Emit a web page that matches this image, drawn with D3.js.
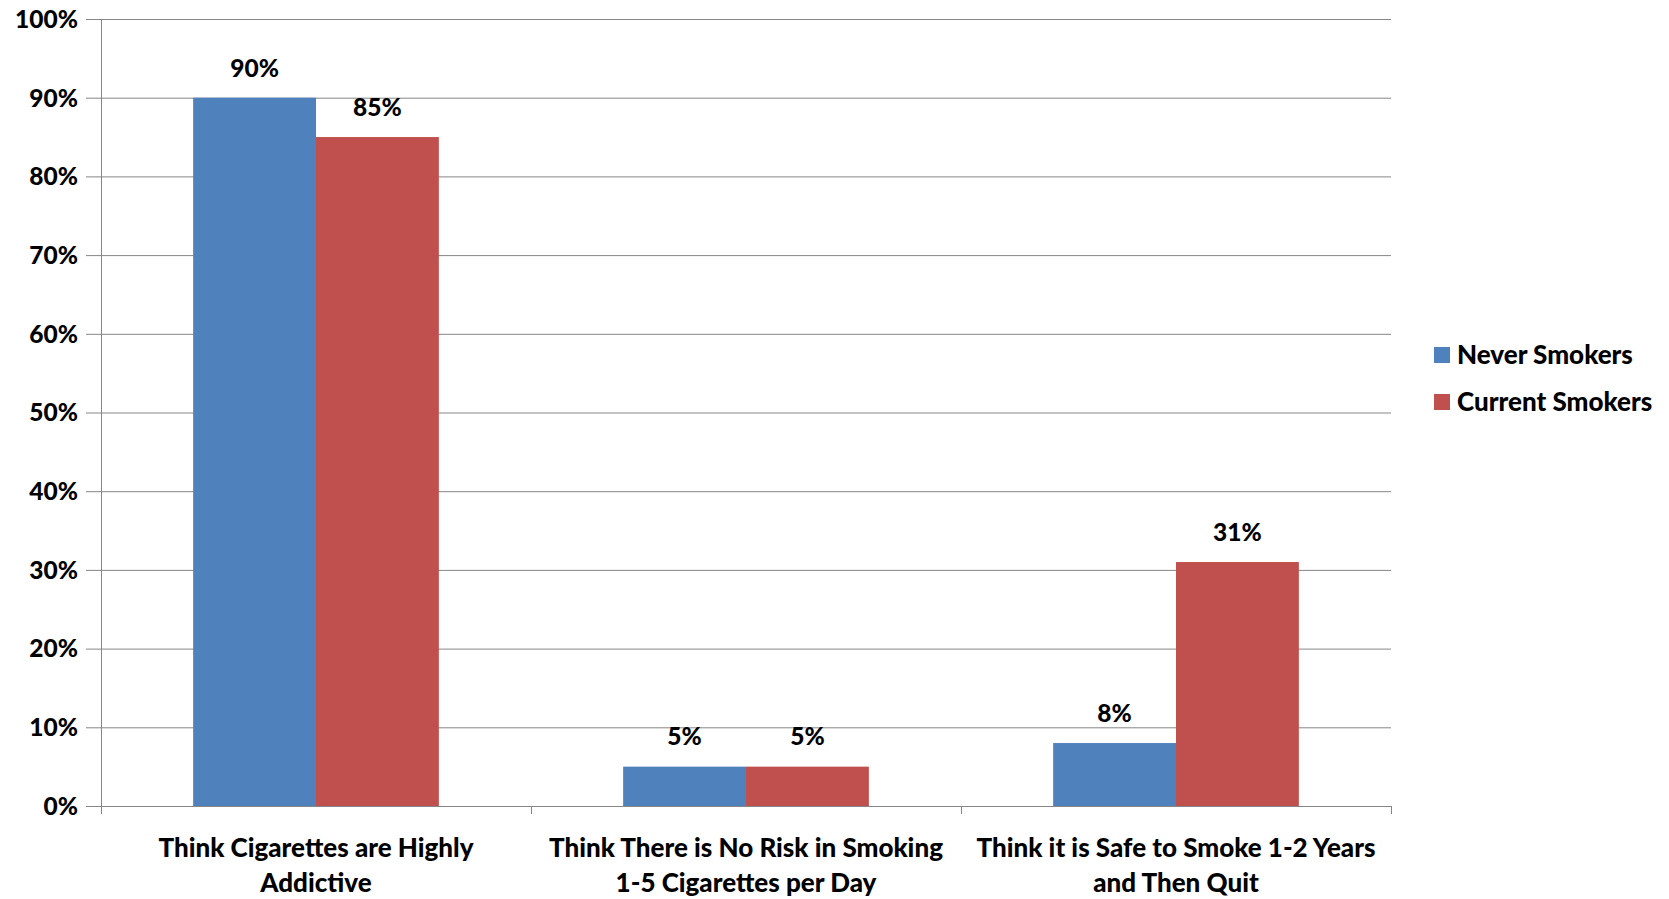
<!DOCTYPE html>
<html><head><meta charset="utf-8">
<script src="https://cdn.jsdelivr.net/npm/d3@7"></script>
<style>body{margin:0;background:#fff}svg text{font-family:Lato,"Open Sans",sans-serif;font-weight:900;fill:#000}</style>
</head><body><svg id="c" width="1669" height="899"></svg>
<script>
const categories = [["Think Cigarettes are Highly","Addictive"],["Think There is No Risk in Smoking","1-5 Cigarettes per Day"],["Think it is Safe to Smoke 1-2 Years","and Then Quit"]];
const seriesNames = ["Never Smokers","Current Smokers"];
const neverSmokers = [90,5,8];
const currentSmokers = [85,5,31];
const yTicks = [0,10,20,30,40,50,60,70,80,90,100];
const colors = ["#4F81BD","#C0504D"];

const svg = d3.select("#c");
const L=101,R=1391,T=19,B=806;
const x = d3.scaleBand().domain(d3.range(categories.length)).range([L,R]).paddingInner(0).paddingOuter(0);
const y = d3.scaleLinear().domain([0,100]).range([B,T]);
const inner = d3.scaleBand().domain([0,1]).range([0,x.bandwidth()]).paddingOuter(0.75).paddingInner(0);
const fsTick = 24.5, fsCat = 26, fsLeg = 26;

// gridlines
svg.append("g").selectAll("line").data(yTicks).join("line")
  .attr("x1",L-15).attr("x2",R).attr("y1",d=>y(d)+0.5).attr("y2",d=>y(d)+0.5)
  .attr("stroke","#868686").attr("stroke-width",1);
// y axis line
svg.append("line").attr("x1",L+0.5).attr("x2",L+0.5).attr("y1",T).attr("y2",B).attr("stroke","#868686");
// y labels
svg.append("g").selectAll("text").data(yTicks).join("text")
  .attr("x",78).attr("y",d=>y(d)).attr("dy","0.36em").attr("text-anchor","end")
  .style("font-size",fsTick+"px").text(d=>d+"%");
// category tick marks
svg.append("g").selectAll("line").data(d3.range(categories.length+1)).join("line")
  .attr("x1",d=>Math.round(L+d*x.bandwidth())+0.5).attr("x2",d=>Math.round(L+d*x.bandwidth())+0.5)
  .attr("y1",B).attr("y2",B+8).attr("stroke","#868686");

const data = [neverSmokers,currentSmokers];
data.forEach((vals,s)=>{
  const g = svg.append("g");
  g.selectAll("rect").data(vals).join("rect")
    .attr("x",(d,i)=>x(i)+inner(s)).attr("width",inner.bandwidth())
    .attr("y",d=>y(d)).attr("height",d=>B-y(d)).attr("fill",colors[s]);
  g.selectAll("text").data(vals).join("text")
    .attr("x",(d,i)=>x(i)+inner(s)+inner.bandwidth()/2).attr("y",d=>y(d)-30).attr("dy","0.36em")
    .attr("text-anchor","middle").style("font-size",fsTick+"px").text(d=>d+"%");
});

// category labels
const cl = svg.append("g").selectAll("text").data(categories).join("text")
  .attr("text-anchor","middle").style("font-size",fsCat+"px");
cl.selectAll("tspan").data((d,i)=>d.map(t=>({t,i}))).join("tspan")
  .attr("x",d=>x(d.i)+x.bandwidth()/2).attr("y",(d,j)=>848+j*35).attr("dy","0.36em").text(d=>d.t);

// legend
const lg = svg.append("g").selectAll("g").data(seriesNames).join("g")
  .attr("transform",(d,i)=>`translate(1434,${355+i*47})`);
lg.append("rect").attr("x",0).attr("y",-8).attr("width",16).attr("height",16).attr("fill",(d,i)=>colors[i]);
lg.append("text").attr("x",23).attr("y",0).attr("dy","0.36em").style("font-size",fsLeg+"px").text(d=>d);
</script></body></html>
